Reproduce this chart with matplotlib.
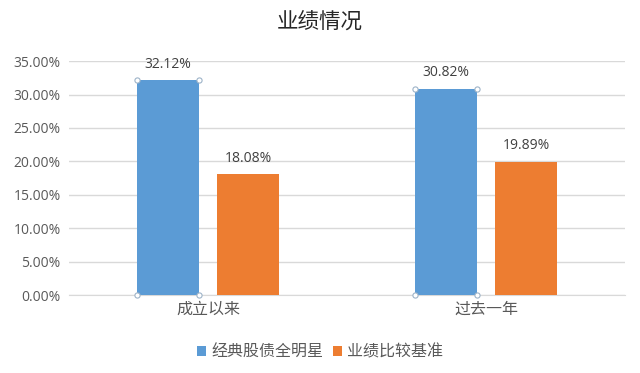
import numpy as np
import matplotlib.pyplot as plt

plt.rcParams['font.family'] = ['Open Sans', 'Noto Sans CJK SC', 'DejaVu Sans']

categories = ['成立以来', '过去一年']
series_names = ['经典股债全明星', '业绩比较基准']
fund_values = [32.12, 30.82]
bench_values = [18.08, 19.89]
colors = ['#5B9BD5', '#ED7D31']
yticks = [0, 5, 10, 15, 20, 25, 30, 35]


def plot_bars():
    fig = plt.figure(figsize=(6.4, 3.73), dpi=100)
    ax = fig.add_axes([0.108, 0.209, 0.869, 0.627])

    x = np.arange(len(categories))
    w = 0.223
    off = 0.144
    b1 = ax.bar(x - off, fund_values, w, color=colors[0], label=series_names[0], zorder=3)
    b2 = ax.bar(x + off, bench_values, w, color=colors[1], label=series_names[1], zorder=3)

    # 选中系列的小圆点
    for r in b1:
        xs = [r.get_x(), r.get_x() + r.get_width()] * 2
        ys = [0, 0, r.get_height(), r.get_height()]
        ax.scatter(xs, ys, s=14, facecolor='white', edgecolor='#9DB3C8', linewidth=0.8, zorder=4, clip_on=False)

    for bars in (b1, b2):
        for r in bars:
            ax.text(r.get_x() + r.get_width() / 2, r.get_height() + 1.3, '%.2f%%' % r.get_height(),
                    ha='center', va='bottom', fontsize=10, color='#404040')

    ax.set_xlim(-0.5, 1.5)
    ax.set_ylim(0, 35)
    ax.set_yticks(yticks)
    ax.set_yticklabels(['%.2f%%' % v for v in yticks])
    ax.set_xticks(x)
    ax.set_xticklabels(categories, fontsize=11.5)
    ax.tick_params(axis='both', colors='#595959', length=0)
    ax.tick_params(axis='y', labelsize=10, pad=6)
    ax.tick_params(axis='x', pad=5)
    ax.yaxis.grid(True, color='#D9D9D9', linewidth=1, zorder=0)
    for s in ['top', 'right', 'left']:
        ax.spines[s].set_visible(False)
    ax.spines['bottom'].set_color('#D9D9D9')

    fig.text(0.5, 0.94, '业绩情况', ha='center', va='center', fontsize=15.5, color='#262626')
    fig.legend(loc='center', bbox_to_anchor=(0.5, 0.055), ncol=2, frameon=False, fontsize=11.5,
               handlelength=0.6, handleheight=0.6, handletextpad=0.3, columnspacing=0.6,
               labelcolor='#595959')

    fig.savefig('out.png', dpi=100)


if __name__ == '__main__':
    plot_bars()
